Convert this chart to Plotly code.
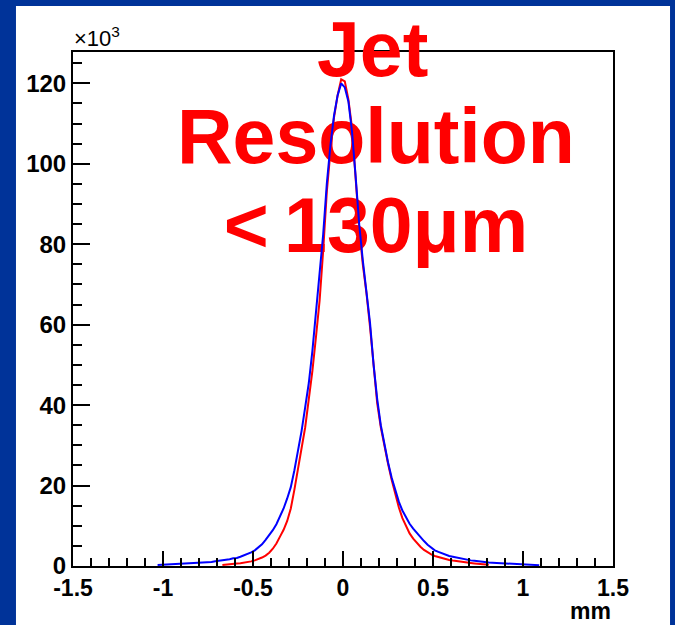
import numpy as np
import plotly.graph_objects as go

# Residual distributions, entries per 0.02 mm bin, in units of 10^3
BIN_WIDTH = 0.02

blue_first_center = -1.03
blue_counts = [
    0.25, 0.3, 0.3, 0.35, 0.35, 0.4, 0.45, 0.5, 0.5, 0.55,
    0.6, 0.65, 0.7, 0.8, 0.9, 1.0, 1.2, 1.3, 1.4, 1.5,
    1.7, 1.9, 2.0, 2.3, 2.6, 3.0, 3.4, 3.9, 4.6, 5.4,
    6.5, 7.6, 8.9, 10.4, 12.2, 14.3, 16.8, 19.6, 23.8, 28.4,
    33.6, 39.5, 45.5, 53.5, 63.5, 73.5, 82.5, 95.0, 104.5, 112.0,
    117.0, 120.0, 119.0, 115.5, 108.0, 97.0, 85.0, 76.0, 68.5, 60.5,
    50.0, 41.5, 35.0, 30.0, 25.8, 22.0, 18.7, 16.0, 13.8, 12.0,
    10.5, 9.3, 8.2, 7.2, 6.2, 5.3, 4.5, 3.9, 3.5, 3.1,
    2.8, 2.5, 2.3, 2.1, 1.9, 1.7, 1.55, 1.4, 1.3, 1.15,
    1.05, 0.95, 0.85, 0.8, 0.75, 0.7, 0.65, 0.6, 0.55, 0.5,
    0.5, 0.45, 0.4, 0.35, 0.3, 0.25, 0.2,
]

red_first_center = -0.67
red_counts = [
    0.25, 0.3, 0.4, 0.5, 0.6, 0.7, 0.8, 0.95, 1.15, 1.4,
    1.7, 2.1, 2.6, 3.3, 4.3, 5.6, 7.3, 9.0, 11.2, 14.3,
    19.0, 24.5, 29.0, 34.5, 41.5, 48.5, 57.0, 66.0, 78.5, 93.0,
    103.0, 111.5, 117.0, 121.0, 120.5, 116.0, 109.0, 97.0, 84.0, 75.0,
    68.0, 59.5, 49.0, 40.5, 34.5, 29.5, 25.5, 21.5, 18.0, 14.6,
    11.9, 9.8, 8.1, 6.8, 5.7, 4.8, 4.0, 3.4, 2.9, 2.5,
    2.2, 1.9, 1.7, 1.5, 1.35, 1.2, 1.05, 0.95, 0.85, 0.75,
    0.65, 0.55, 0.45, 0.35, 0.3,
]

x_tick_vals = [-1.5, -1.0, -0.5, 0.0, 0.5, 1.0, 1.5]
x_tick_text = ["-1.5", "-1", "-0.5", "0", "0.5", "1", "1.5"]
y_tick_vals = [0, 20, 40, 60, 80, 100, 120]
y_tick_text = ["0", "20", "40", "60", "80", "100", "120"]

caption_top = "Jet"
caption_lines = ["Resolution", "<\u2009130\u03bcm"]


def bin_centers(first_center, counts):
    return np.round(first_center + BIN_WIDTH * np.arange(len(counts)), 4)


bx = bin_centers(blue_first_center, blue_counts)
rx = bin_centers(red_first_center, red_counts)

FONT = "Liberation Sans, Arial, Helvetica, sans-serif"
CAPTION_FONT = dict(family=FONT, size=77, color="#ff0000", weight="bold")

fig = go.Figure()

# Lower caption lines, drawn first so the histograms sit on top of them
fig.add_trace(go.Scatter(
    x=[0.183, 0.183],
    y=[104.9, 82.9],
    mode="text",
    text=caption_lines,
    textposition="middle center",
    textfont=CAPTION_FONT,
    cliponaxis=False,
    hoverinfo="skip",
    showlegend=False,
))

fig.add_trace(go.Scatter(
    x=rx, y=red_counts, mode="lines", line=dict(color="#ff0000", width=2),
    hoverinfo="skip", showlegend=False,
))
fig.add_trace(go.Scatter(
    x=bx, y=blue_counts, mode="lines", line=dict(color="#0000ff", width=2),
    hoverinfo="skip", showlegend=False,
))

fig.update_layout(
    width=675,
    height=625,
    margin=dict(l=73, r=62, t=52, b=59, autoexpand=False),
    paper_bgcolor="#003399",
    plot_bgcolor="#ffffff",
    font=dict(family=FONT, color="#000000"),
    shapes=[dict(
        type="rect", xref="paper", yref="paper",
        x0=-0.1056, x1=1.1056, y0=-0.14, y1=1.0895,
        fillcolor="#ffffff", line=dict(width=0), layer="below",
    )],
    annotations=[
        dict(
            text=caption_top, xref="paper", yref="paper",
            x=0.554, y=1.005, xanchor="center", yanchor="middle",
            showarrow=False, font=CAPTION_FONT,
        ),
        dict(
            text="\u00d710<sup>3</sup>", xref="paper", yref="paper",
            x=-0.002, y=0.998, xanchor="left", yanchor="bottom",
            showarrow=False, font=dict(family=FONT, size=22, color="#000000"),
        ),
        dict(
            text="mm", xref="paper", yref="paper",
            x=1.0, y=-0.088, xanchor="right", yanchor="middle",
            showarrow=False, font=dict(family=FONT, size=23, color="#000000", weight="bold"),
        ),
    ],
)

fig.update_xaxes(
    range=[-1.5, 1.5],
    showgrid=False, zeroline=False,
    showline=True, linecolor="#000000", linewidth=2, mirror=True,
    ticks="inside", ticklen=15, tickwidth=1.5, tickcolor="#000000",
    tickvals=x_tick_vals, ticktext=x_tick_text,
    tickfont=dict(family=FONT, size=23, color="#000000", weight="bold"),
    minor=dict(dtick=0.1, tick0=0, ticks="inside", ticklen=8, tickwidth=1.5,
               tickcolor="#000000", showgrid=False),
)
fig.update_yaxes(
    range=[0, 127.8],
    showgrid=False, zeroline=False,
    showline=True, linecolor="#000000", linewidth=2, mirror=True,
    ticks="inside", ticklen=17, tickwidth=2, tickcolor="#000000",
    tickvals=y_tick_vals, ticktext=y_tick_text,
    tickfont=dict(family=FONT, size=24, color="#000000", weight="bold"),
    minor=dict(dtick=5, tick0=0, ticks="inside", ticklen=9, tickwidth=2,
               tickcolor="#000000", showgrid=False),
)

fig.write_html("out.html")
